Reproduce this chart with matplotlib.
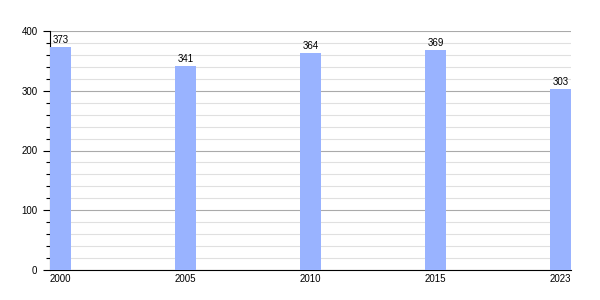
import matplotlib
matplotlib.use("Agg")
import matplotlib.pyplot as plt
from matplotlib.ticker import MultipleLocator

years = ["2000", "2005", "2010", "2015", "2023"]
values = [373, 341, 364, 369, 303]

plt.rcParams['font.family'] = ['Liberation Sans', 'DejaVu Sans']

fig = plt.figure(figsize=(6, 3), dpi=100)
ax = fig.add_axes([50/600, 30/300, 521/600, 239/300])

w = 0.168
x = list(range(len(years)))
ax.bar(x, values, width=w, color="#99b3ff", zorder=3)
for xi, v in zip(x, values):
    ax.text(xi, v + 3, str(v), ha="center", va="bottom", fontsize=7, color="black", zorder=4)

ax.set_xlim(-w/2, len(years) - 1 + w/2)
ax.set_ylim(0, 400)
ax.set_xticks(x)
ax.set_xticklabels(years, fontsize=7)
ax.tick_params(axis="x", length=0, pad=3)
ax.yaxis.set_major_locator(MultipleLocator(100))
ax.yaxis.set_minor_locator(MultipleLocator(20))
ax.tick_params(axis="y", which="major", length=5, width=0.8, labelsize=7, pad=4)
ax.tick_params(axis="y", which="minor", length=3, width=0.8)
ax.grid(axis="y", which="major", color="#aaaaaa", linewidth=0.8, zorder=1)
ax.grid(axis="y", which="minor", color="#e0e0e0", linewidth=0.8, zorder=1)
for s in ["top", "right"]:
    ax.spines[s].set_visible(False)
ax.spines["left"].set_linewidth(0.8)
ax.spines["bottom"].set_linewidth(0.8)
ax.set_axisbelow(True)

fig.savefig("out.png", dpi=100)
